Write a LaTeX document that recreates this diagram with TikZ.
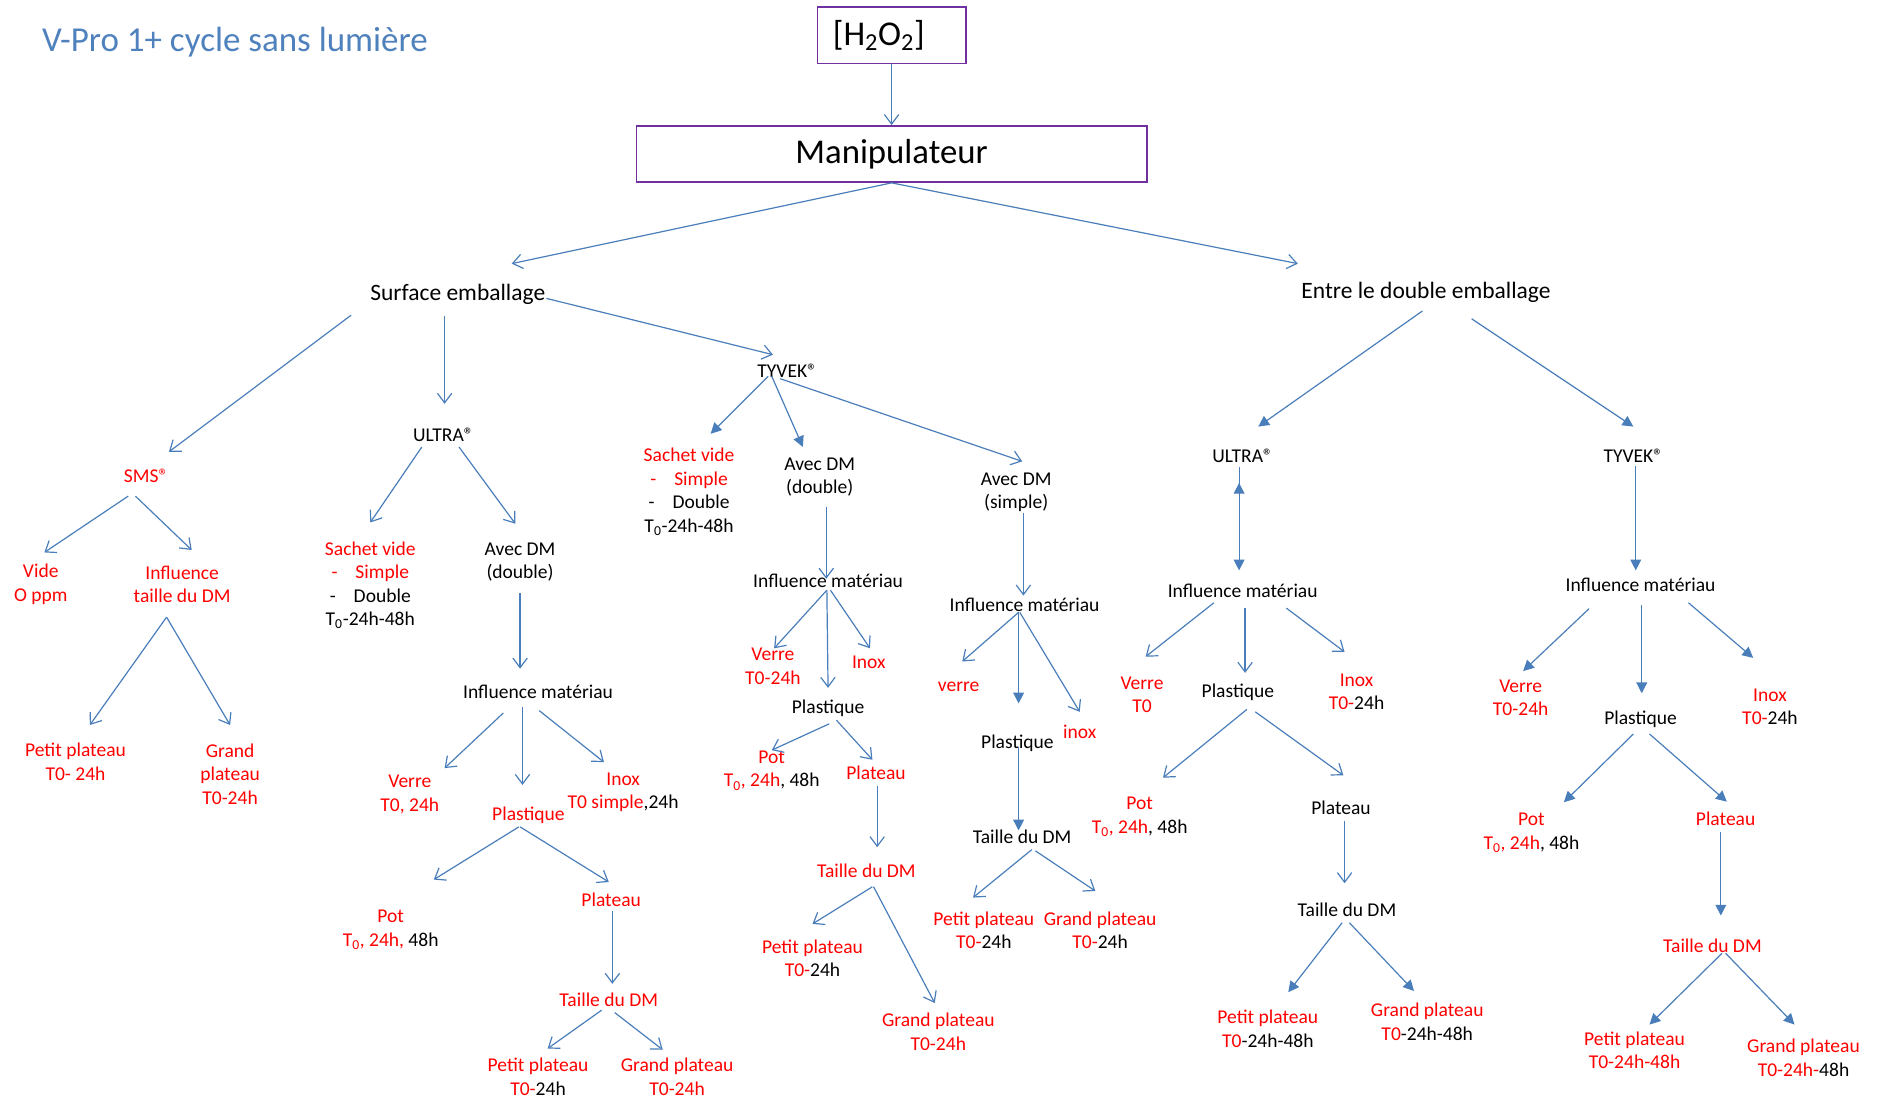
\documentclass[tikz,border=0pt]{standalone}
\usepackage{fontspec}
\setmainfont{Carlito}
\usepackage{tikz}
\usepackage{xcolor}
\usetikzlibrary{arrows.meta,positioning,calc}
\definecolor{linkblue}{HTML}{4A7EBB}
\definecolor{titleblue}{HTML}{4F81BD}
\definecolor{boxpurple}{HTML}{7030A0}
\definecolor{hotred}{HTML}{FF0000}
\newcommand{\rd}[1]{\textcolor{hotred}{#1}}
\tikzset{
  lbl/.style={align=center,inner sep=1pt,font=\fontsize{16.3}{19.6}\selectfont},
  redlbl/.style={lbl,text=hotred},
  midlbl/.style={align=center,inner sep=1pt,font=\fontsize{19.6}{23}\selectfont},
  titletext/.style={inner sep=1pt,text=titleblue,font=\fontsize{29.2}{35}\selectfont},
  framebox/.style={draw=boxpurple,line width=1.2pt,minimum height=47pt,
                   inner sep=4pt,font=\fontsize{29}{35}\selectfont},
  openarr/.style={-{Straight Barb[length=8pt,width=12pt]},line width=1pt,color=linkblue},
  fillarr/.style={-{Triangle[length=9pt,width=9pt]},line width=1pt,color=linkblue}
}

\begin{document}
\begin{tikzpicture}[x=1pt,y=-1pt,>=Latex]
      \useasboundingbox (0,0) rectangle (1568,917);

      \node[titletext] (title) at (196,35) {V-Pro 1+ cycle sans lumière};
      \node[framebox,minimum width=124pt,text width=98pt,inner xsep=13pt,align=left] (hoo) at (744,29.5) {[H\textsubscript{2}O\textsubscript{2}]};
      \node[framebox,minimum width=426pt] (manip) at (744,128.5) {Manipulateur};
      \node[midlbl] (surf) at (382,246) {Surface emballage};
      \node[midlbl] (entre) at (1190,244) {Entre le double emballage};

      \node[redlbl] (sms) at (122,397) {SMS\textregistered};
      \node[redlbl] (smsvide) at (34,487.5) {Vide\\O ppm};
      \node[redlbl] (smsinf) at (152,487.5) {Influence\\taille du DM};
      \node[redlbl] (smspp) at (63,635.5) {Petit plateau\\T0- 24h};
      \node[redlbl] (smsgp) at (192,646) {Grand\\plateau\\T0-24h};

      \node[lbl] (ultL) at (370,363) {ULTRA\textregistered};
      \node[lbl] (sacU) at (309,488.5) {\rd{Sachet vide}\\\rd{-\hspace{15pt}Simple}\\-\hspace{15pt}Double\\T\textsubscript{0}-24h-48h};
      \node[lbl] (avdU) at (434,469) {Avec DM\\(double)};
      \node[lbl] (imU) at (449,577) {Influence matériau};
      \node[redlbl] (verU) at (342,663) {Verre\\T0, 24h};
      \node[redlbl] (plaU) at (441,680) {Plastique};
      \node[lbl] (inoU) at (520,661) {\rd{Inox}\\\rd{T0 simple},24h};
      \node[lbl] (potU) at (326,776) {\rd{Pot}\\\rd{T\textsubscript{0}, 24h,} 48h};
      \node[redlbl] (pltU) at (510,751) {Plateau};
      \node[redlbl] (tdmU) at (508,834) {Taille du DM};
      \node[lbl] (ppU) at (449,898.5) {\rd{Petit plateau}\\\rd{T0-}24h};
      \node[redlbl] (gpU) at (565,898.5) {Grand plateau\\T0-24h};

      \node[lbl] (tyvL) at (657,309) {TYVEK\textregistered};
      \node[lbl] (sacT) at (575,410.5) {\rd{Sachet vide}\\\rd{-\hspace{15pt}Simple}\\-\hspace{15pt}Double\\T\textsubscript{0}-24h-48h};
      \node[lbl] (avdT) at (684,398) {Avec DM\\(double)};
      \node[lbl] (imT) at (691,485) {Influence matériau};
      \node[redlbl] (verT) at (645,556) {Verre\\T0-24h};
      \node[redlbl] (inoT) at (725,553) {Inox};
      \node[lbl] (plaT) at (691,591) {Plastique};
      \node[lbl] (potT) at (644,643) {\rd{Pot}\\\rd{T\textsubscript{0}, 24h}, 48h};
      \node[redlbl] (pltT) at (731,645) {Plateau};
      \node[redlbl] (tdmT) at (723,727) {Taille du DM};
      \node[lbl] (ppT) at (678,799.5) {\rd{Petit plateau}\\\rd{T0-}24h};
      \node[redlbl] (gpT) at (783,861) {Grand plateau\\T0-24h};

      \node[lbl] (avs) at (848,411) {Avec DM\\(simple)};
      \node[lbl] (ims) at (855,505) {Influence matériau};
      \node[redlbl] (vers) at (800,573) {verre};
      \node[redlbl] (inos) at (901,611) {inox};
      \node[lbl] (plas) at (849,620) {Plastique};
      \node[lbl] (tdms) at (853,698) {Taille du DM};
      \node[lbl] (pps) at (821,776.5) {\rd{Petit plateau}\\\rd{T0-}24h};
      \node[lbl] (gps) at (918,776.5) {\rd{Grand plateau}\\\rd{T0-}24h};

      \node[lbl] (ultR) at (1037,380) {ULTRA\textregistered};
      \node[lbl] (imR) at (1037,493) {Influence matériau};
      \node[redlbl] (verR) at (953,580) {Verre\\T0};
      \node[lbl] (plaR) at (1033,578) {Plastique};
      \node[lbl] (inoR) at (1132,577.5) {\rd{Inox}\\\rd{T0-}24h};
      \node[lbl] (potR) at (951,681.5) {\rd{Pot}\\\rd{T\textsubscript{0}, 24h}, 48h};
      \node[lbl] (pltR) at (1119,674) {Plateau};
      \node[lbl] (tdmR) at (1124,759) {Taille du DM};
      \node[lbl] (ppR) at (1058,858.5) {\rd{Petit plateau}\\\rd{T0}-24h-48h};
      \node[lbl] (gpR) at (1191,852.5) {\rd{Grand plateau}\\\rd{T0}-24h-48h};

      \node[lbl] (tyvR) at (1363,380) {TYVEK\textregistered};
      \node[lbl] (imTR) at (1369,488) {Influence matériau};
      \node[redlbl] (verTR) at (1269,582.5) {Verre\\T0-24h};
      \node[lbl] (plaTR) at (1369,600) {Plastique};
      \node[lbl] (inoTR) at (1477,590) {\rd{Inox}\\\rd{T0-}24h};
      \node[lbl] (potTR) at (1278,695) {\rd{Pot}\\\rd{T\textsubscript{0}, 24h}, 48h};
      \node[redlbl] (pltTR) at (1440,683) {Plateau};
      \node[redlbl] (tdmTR) at (1429,789) {Taille du DM};
      \node[redlbl] (ppTR) at (1364,876.5) {Petit plateau\\T0-24h-48h};
      \node[lbl] (gpTR) at (1505,882.5) {\rd{Grand plateau}\\\rd{T0-24h-}48h};

      \draw[openarr] (hoo.south) -- (manip.north);
      \draw[openarr] (manip.south) -- ($(surf)+(45,-26)$);
      \draw[openarr] (manip.south) -- ($(entre)+(-107,-24)$);
      \draw[openarr] ($(surf)+(-89,17)$) -- ($(sms)+(19,-20)$);
      \draw[openarr] ($(surf)+(-11,18)$) -- ($(ultL)+(1,-26)$);
      \draw[openarr] ($(surf)+(74,3)$) -- ($(tyvL)+(-12,-13)$);

      \draw[openarr] ($(sms)+(-15,17)$) -- ($(smsvide)+(3,-26.5)$);
      \draw[openarr] ($(sms)+(-9,17)$) -- ($(smsinf)+(8,-28.5)$);
      \draw[openarr] ($(smsinf)+(-13,27.5)$) -- ($(smspp)+(12,-30.5)$);
      \draw[openarr] ($(smsinf)+(-13,27.5)$) -- ($(smsgp)+(0,-41)$);

      \draw[openarr] ($(ultL)+(-18,10)$) -- ($(sacU)+(0,-52.5)$);
      \draw[openarr] ($(ultL)+(13,10)$) -- ($(avdU)+(-4,-32)$);
      \draw[openarr] ($(avdU)+(0,26)$) -- ($(imU)+(-15,-19)$);
      \draw[openarr] ($(imU)+(-29,18)$) -- ($(verU)+(29,-22)$);
      \draw[openarr] ($(imU)+(-13,13)$) -- ($(plaU)+(-5,-25)$);
      \draw[openarr] ($(imU)+(1,16)$) -- ($(inoU)+(-16,-25)$);
      \draw[openarr] ($(plaU)+(-8,10)$) -- ($(potU)+(36,-42)$);
      \draw[openarr] ($(plaU)+(-7,10)$) -- ($(pltU)+(-2,-15)$);
      \draw[openarr] ($(pltU)+(1,9)$) -- ($(tdmU)+(3,-13)$);
      \draw[openarr] ($(tdmU)+(-6,9)$) -- ($(ppU)+(8,-23.5)$);
      \draw[openarr] ($(tdmU)+(5,11)$) -- ($(gpU)+(-12,-22.5)$);

      \draw[fillarr] ($(tyvL)+(-16,5)$) -- ($(sacT)+(18,-48.5)$);
      \draw[fillarr] ($(tyvL)+(-13,5)$) -- ($(avdT)+(-14,-25)$);
      \draw[openarr] ($(tyvL)+(-6,7)$) -- ($(avs)+(5,-26)$);
      \draw[openarr] ($(avdT)+(5.5,25)$) -- ($(imT)+(-1.5,-2)$);
      \draw[openarr] ($(imT)+(-1,7.5)$) -- ($(verT)+(1,-15)$);
      \draw[openarr] ($(imT)+(-1,7.5)$) -- ($(plaT)+(0,-17)$);
      \draw[openarr] ($(imT)+(2,7.5)$) -- ($(inoT)+(1,-12)$);
      \draw[openarr] ($(plaT)+(1,13)$) -- ($(potT)+(0,-17)$);
      \draw[openarr] ($(plaT)+(7,10)$) -- ($(pltT)+(-3,-11)$);
      \draw[openarr] ($(pltT)+(1,11)$) -- ($(tdmT)+(9,-20)$);
      \draw[openarr] ($(tdmT)+(5,13)$) -- ($(ppT)+(0,-28.5)$);
      \draw[openarr] ($(tdmT)+(6,13)$) -- ($(gpT)+(-3,-24)$);

      \draw[openarr] ($(avs)+(6,17)$) -- ($(ims)+(-1,-8)$);
      \draw[openarr] ($(ims)+(-5,6)$) -- ($(vers)+(3,-21)$);
      \draw[fillarr] ($(ims)+(-5,6)$) -- ($(plas)+(1,-33)$);
      \draw[openarr] ($(ims)+(-4,6)$) -- ($(inos)+(0,-17)$);
      \draw[fillarr] ($(plas)+(1,3)$) -- ($(tdms)+(-3,-5)$);
      \draw[openarr] ($(tdms)+(8,11)$) -- ($(pps)+(-9,-27.5)$);
      \draw[openarr] ($(tdms)+(11,12)$) -- ($(gps)+(-4,-33)$);

      \draw[fillarr] ($(entre)+(-3,15.5)$) -- ($(ultR)+(13,-24)$);
      \draw[fillarr] ($(entre)+(38,22)$) -- ($(tyvR)+(0,-24)$);
      \draw[fillarr] ($(ultR)+(-3,10)$) -- ($(imR)+(-3,-17)$);
      \draw[fillarr] ($(ultR)+(-3,31)$) -- ($(ultR)+(-3,23)$);
      \draw[openarr] ($(imR)+(-24,10)$) -- ($(verR)+(3,-32)$);
      \draw[openarr] ($(imR)+(2,14.5)$) -- ($(plaR)+(6,-16.5)$);
      \draw[openarr] ($(imR)+(36.5,14.5)$) -- ($(inoR)+(-10,-33.5)$);
      \draw[openarr] ($(plaR)+(7.5,14)$) -- ($(potR)+(19.5,-32.5)$);
      \draw[openarr] ($(plaR)+(14.5,16)$) -- ($(pltR)+(2,-27)$);
      \draw[openarr] ($(pltR)+(3,11)$) -- ($(tdmR)+(-2,-22)$);
      \draw[fillarr] ($(tdmR)+(-4,11)$) -- ($(ppR)+(17,-30.5)$);
      \draw[fillarr] ($(tdmR)+(2,11)$) -- ($(gpR)+(-11,-25.5)$);

      \draw[fillarr] ($(tyvR)+(2,9)$) -- ($(imTR)+(-4,-12)$);
      \draw[fillarr] ($(imTR)+(-43,20)$) -- ($(verTR)+(2,-22.5)$);
      \draw[fillarr] ($(imTR)+(1,17)$) -- ($(plaTR)+(1,-21.5)$);
      \draw[fillarr] ($(imTR)+(40,15)$) -- ($(inoTR)+(-14,-41)$);
      \draw[fillarr] ($(plaTR)+(-6,12.5)$) -- ($(potTR)+(27,-25.5)$);
      \draw[fillarr] ($(plaTR)+(7.5,12.5)$) -- ($(pltTR)+(1,-14)$);
      \draw[fillarr] ($(pltTR)+(-4,11)$) -- ($(tdmTR)+(7,-25)$);
      \draw[fillarr] ($(tdmTR)+(8,6.5)$) -- ($(ppTR)+(12.5,-21.5)$);
      \draw[fillarr] ($(tdmTR)+(11,6.5)$) -- ($(gpTR)+(-7.5,-27.5)$);
    \end{tikzpicture}
\end{document}
